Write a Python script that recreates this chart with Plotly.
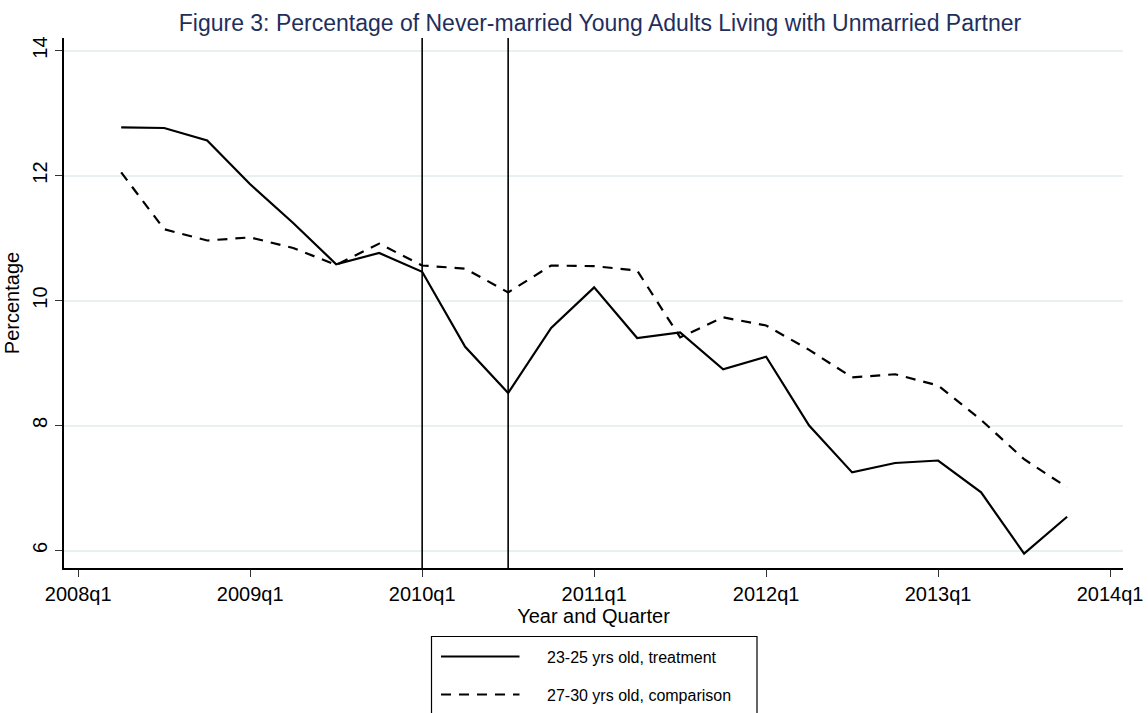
import plotly.graph_objects as go

# Quarter index counted from 2008q1 (0) to 2014q1 (24)
quarters = list(range(1, 24))  # 2008q2 .. 2013q4

treatment_pct = [12.77, 12.76, 12.56, 11.86, 11.24, 10.58, 10.76, 10.46,
                 9.26, 8.52, 9.56, 10.21, 9.40, 9.49, 8.90, 9.10,
                 8.00, 7.25, 7.40, 7.44, 6.93, 5.95, 6.54]

comparison_pct = [12.05, 11.14, 10.96, 11.01, 10.84, 10.57, 10.91, 10.56,
                  10.51, 10.13, 10.56, 10.55, 10.48, 9.41, 9.73, 9.60,
                  9.21, 8.77, 8.82, 8.64, 8.09, 7.46, 7.01]

series_names = ["23-25 yrs old, treatment", "27-30 yrs old, comparison"]

# Policy timing markers (2010q1 and 2010q3)
event_quarters = [8, 10]

x_tick_vals = [0, 4, 8, 12, 16, 20, 24]
x_tick_text = ["2008q1", "2009q1", "2010q1", "2011q1", "2012q1", "2013q1", "2014q1"]
y_tick_vals = [6, 8, 10, 12, 14]

FONT = "Liberation Sans, Arial, sans-serif"
W, H = 1148, 713
M_L, M_R, M_T, M_B = 64, 25, 38, 145
PLOT_W = W - M_L - M_R
PLOT_H = H - M_T - M_B

LINE_W = 2.2
DASH = "10px,8px"
styles = [dict(color="black", width=LINE_W),
          dict(color="black", width=LINE_W, dash=DASH)]


def px_x(p):
    """Pixel column -> paper x."""
    return (p - M_L) / PLOT_W


def px_y(p):
    """Pixel row -> paper y."""
    return (H - M_B - p) / PLOT_H


fig = go.Figure()

for name, vals, st in zip(series_names, [treatment_pct, comparison_pct], styles):
    fig.add_trace(go.Scatter(
        x=quarters, y=vals, mode="lines", name=name,
        line=dict(st), showlegend=False,
    ))

for q in event_quarters:
    fig.add_vline(x=q, line=dict(color="black", width=1.6), layer="above")

# Boxed legend below the axis title
fig.add_shape(
    type="rect", xref="paper", yref="paper",
    x0=px_x(431.5), x1=px_x(757), y0=px_y(636.5), y1=px_y(722),
    line=dict(color="black", width=1.2), fillcolor="rgba(0,0,0,0)",
)
for i, (name, st) in enumerate(zip(series_names, styles)):
    row_y = 656.5 + i * 38
    fig.add_shape(
        type="line", xref="paper", yref="paper",
        x0=px_x(441), x1=px_x(519.5), y0=px_y(row_y), y1=px_y(row_y),
        line=dict(st),
    )
    fig.add_annotation(
        text=name, xref="paper", yref="paper",
        x=px_x(545), y=px_y(row_y + 1), xanchor="left", yanchor="middle",
        showarrow=False, font=dict(family=FONT, size=16, color="black"),
    )

fig.update_layout(
    width=W, height=H,
    margin=dict(l=M_L, r=M_R, t=M_T, b=M_B),
    paper_bgcolor="white", plot_bgcolor="white",
    font=dict(family=FONT, size=20, color="black"),
    title=dict(
        text="Figure 3: Percentage of Never-married Young Adults Living with Unmarried Partner",
        font=dict(family=FONT, size=23, color="#1f2f5c"),
        x=600 / W, xref="container", xanchor="center",
        y=1 - 23 / H, yref="container", yanchor="middle",
    ),
    showlegend=False,
)

fig.update_xaxes(
    range=[-0.33, 24.3], automargin=False,
    tickmode="array", tickvals=x_tick_vals, ticktext=x_tick_text,
    ticks="outside", ticklen=7, tickwidth=1.4, tickcolor="#333333",
    showline=True, linecolor="black", linewidth=1.6,
    showgrid=False, zeroline=False,
    tickfont=dict(size=20),
    title=dict(text="Year and Quarter", standoff=0, font=dict(size=20)),
)

fig.update_yaxes(
    range=[5.72, 14.2], automargin=False,
    tickmode="array", tickvals=y_tick_vals,
    ticks="outside", ticklen=7, tickwidth=1.4, tickcolor="#333333",
    tickangle=-90,
    showline=True, linecolor="black", linewidth=1.6,
    showgrid=True, gridcolor="#e8f0f2", gridwidth=1.6,
    zeroline=False,
    tickfont=dict(size=20),
    title=dict(text="Percentage", standoff=4, font=dict(size=20)),
)

fig.write_html("out.html")
